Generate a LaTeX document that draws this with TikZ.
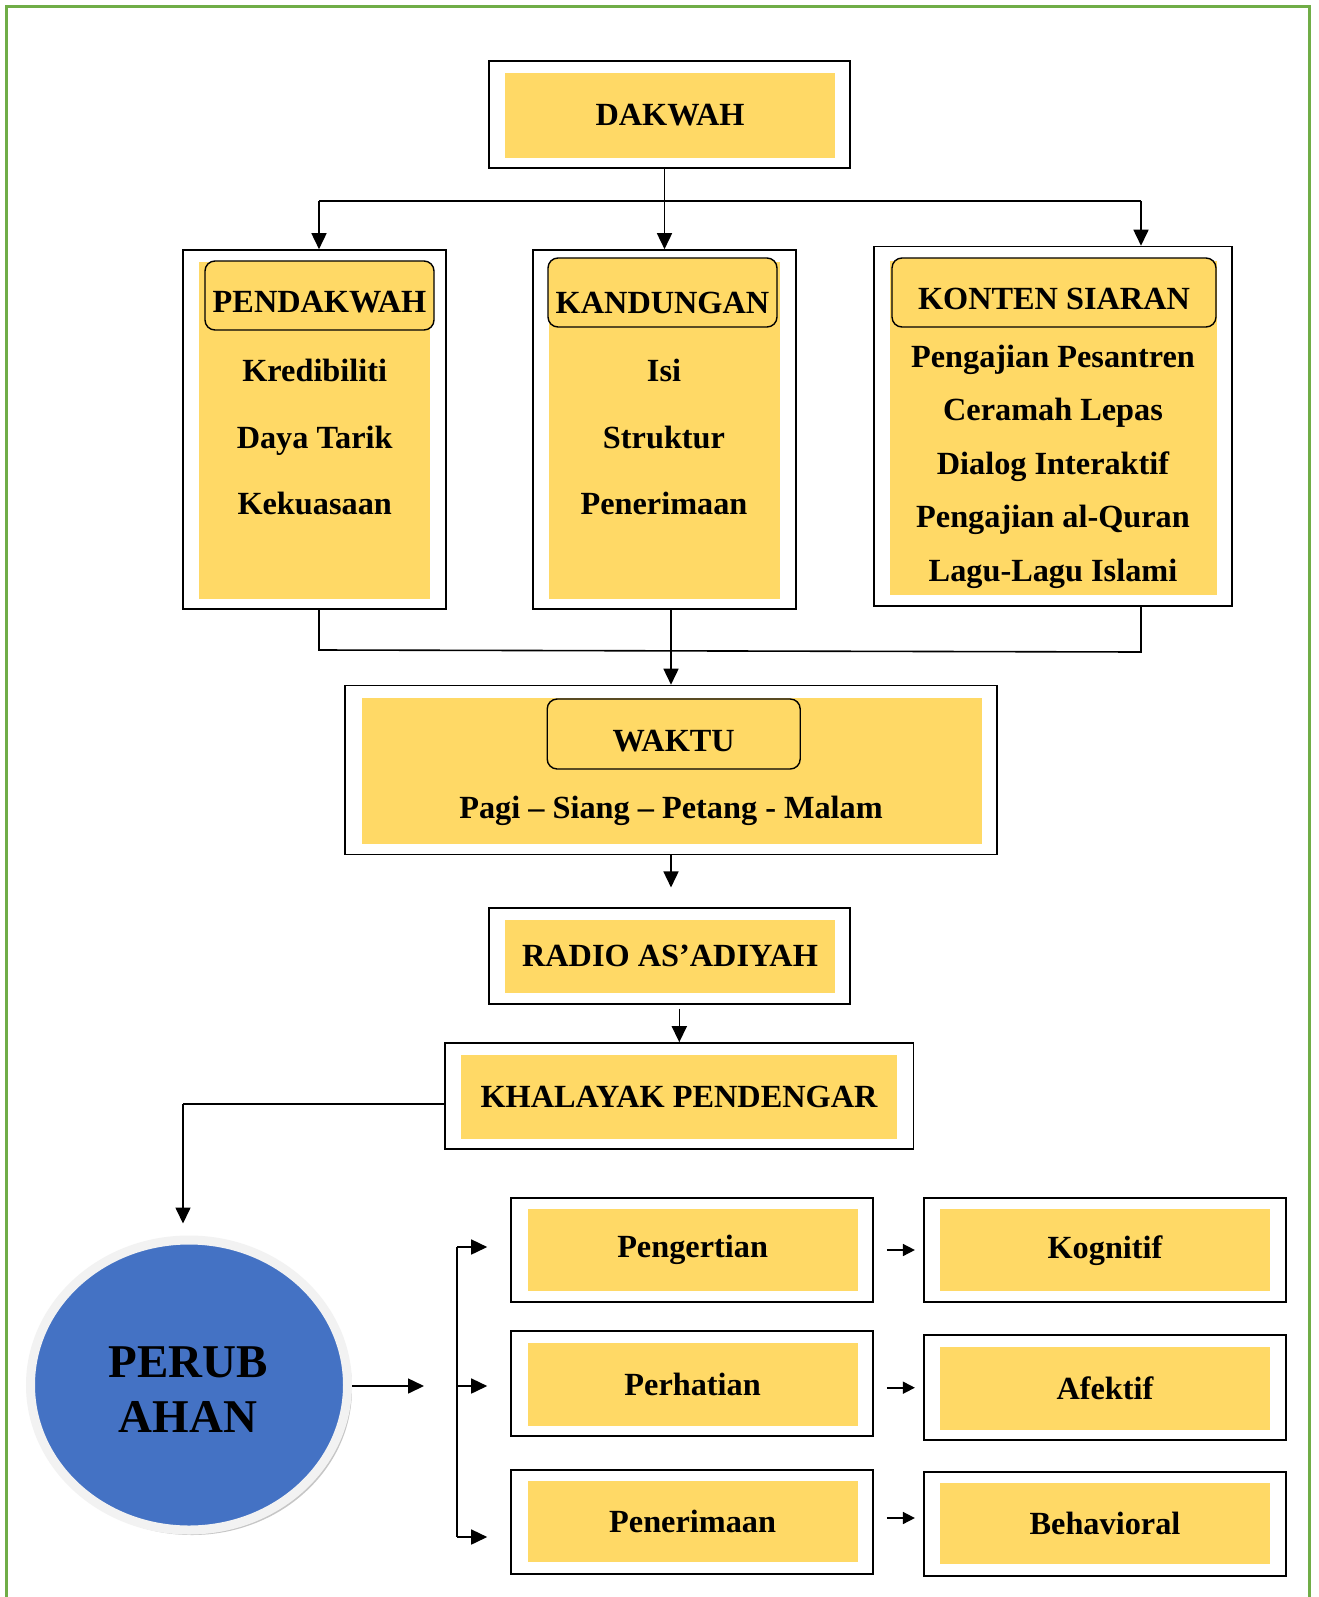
\documentclass[tikz,border=0pt]{standalone}
\usepackage{fontspec}
\setmainfont{Liberation Serif}
\usepackage{tikz}
\usetikzlibrary{shapes,arrows,arrows.meta,positioning,fit}

\definecolor{kuning}{HTML}{FFD966}
\definecolor{biru}{HTML}{4472C4}
\definecolor{hijau}{HTML}{70AD47}
\newcommand{\Huruf}{\fontsize{32.3}{38}\selectfont\bfseries}
\newcommand{\Besar}{\fontsize{47}{55}\selectfont\bfseries}

\begin{document}
\begin{tikzpicture}[x=1pt,y=-1pt]
				\tikzstyle{Frame}	= [draw, line width=1.6pt, fill=white, inner sep=0pt]
				\tikzstyle{Isi}		= [fill=kuning, inner sep=0pt, font=\Huruf]
				\tikzstyle{Judul}	= [draw, rounded corners=10pt, line width=1.4pt, fill=kuning, inner sep=0pt, font=\Huruf, text height=34pt, text depth=0pt]
				\tikzstyle{Teks}	= [inner sep=0pt, align=center]
				\tikzstyle{Garis}	= [line width=1.6pt]
				\tikzstyle{Hubung}	= [line width=1.6pt, -{Triangle[length=16pt,width=15pt]}]
				\tikzstyle{Kecil}	= [line width=1.6pt, -{Triangle[length=12pt,width=12pt]}]

				\useasboundingbox (0,0) rectangle (1318,1597);
				\fill [white] (0,0) rectangle (1318,1597);
				\draw [hijau, line width=3pt] (6,1600) -- (6,7) -- (1309,7) -- (1309,1600);

				% atas
				\node (dakwahF) at (669.5,114.5) [Frame, minimum width=361pt, minimum height=107pt] {};
				\node (dakwah) at (670,115.5) [Isi, minimum width=330pt, minimum height=85pt] {DAKWAH};

				% tiga kotak
				\node (pendF) at (314.5,429.5) [Frame, minimum width=263pt, minimum height=359pt] {};
				\node (pend) at (314.5,430.5) [Isi, minimum width=231pt, minimum height=337pt] {};
				\node (pendJ) at (319.5,295.5) [Judul, minimum width=229pt, minimum height=69pt] {PENDAKWAH};
				\node (pendIsi) at (314.7,437) [Teks, font=\fontsize{32.3}{66.5}\selectfont\bfseries] {Kredibiliti\\Daya Tarik\\Kekuasaan};

				\node (kandF) at (664.5,429.5) [Frame, minimum width=263pt, minimum height=359pt] {};
				\node (kand) at (664.5,430.5) [Isi, minimum width=231pt, minimum height=337pt] {};
				\node (kandJ) at (662.5,292.5) [Judul, minimum width=229pt, minimum height=69pt, text height=41pt] {KANDUNGAN};
				\node (kandIsi) at (664,437) [Teks, font=\fontsize{32.3}{66.5}\selectfont\bfseries] {Isi\\Struktur\\Penerimaan};

				\node (kontenF) at (1053,426.3) [Frame, minimum width=358pt, minimum height=359.5pt] {};
				\node (konten) at (1053.5,428) [Isi, minimum width=327pt, minimum height=334pt] {};
				\node (kontenJ) at (1054,292.5) [Judul, minimum width=324pt, minimum height=69pt] {KONTEN SIARAN};
				\node (kontenIsi) at (1053,466.5) [Teks, font=\fontsize{32.3}{53.5}\selectfont\bfseries] {Pengajian Pesantren\\Ceramah Lepas\\Dialog Interaktif\\Pengajian al-Quran\\Lagu-Lagu Islami};

				% waktu
				\node (waktuF) at (671,770) [Frame, minimum width=652pt, minimum height=169pt] {};
				\node (waktu) at (671.7,770.8) [Isi, minimum width=620pt, minimum height=146pt] {};
				\node (waktuJ) at (673.7,734) [Judul, minimum width=253pt, minimum height=70pt] {WAKTU};
				\node (waktuIsi) at (671,810.5) [Teks, font=\Huruf] {Pagi – Siang – Petang - Malam};

				\node (radioF) at (669.5,956) [Frame, minimum width=361pt, minimum height=95.5pt] {};
				\node (radio) at (670,956.4) [Isi, minimum width=330pt, minimum height=73pt] {RADIO AS’ADIYAH};

				\node (khalayakF) at (679.3,1096) [Frame, minimum width=468.6pt, minimum height=106pt] {};
				\node (khalayak) at (679,1097) [Isi, minimum width=436pt, minimum height=84pt] {KHALAYAK PENDENGAR};

				% perubahan
				\fill [gray!45] (192,1389) ellipse [x radius=160pt, y radius=146pt];
				\node (ubah) at (189,1385) [ellipse, fill=biru, draw=gray!10, line width=9pt, minimum width=317pt, minimum height=290pt, inner sep=0pt] {};
				\node (ubahTeks) at (188,1390) [Teks, font=\Besar] {PERUB\\AHAN};

				\node (pengF) at (692,1250) [Frame, minimum width=362pt, minimum height=104pt] {};
				\node (peng) at (692.6,1250.3) [Isi, minimum width=330pt, minimum height=82pt] {Pengertian};
				\node (perhF) at (692,1383.5) [Frame, minimum width=362pt, minimum height=105pt] {};
				\node (perh) at (692.6,1384.5) [Isi, minimum width=330pt, minimum height=83pt] {Perhatian};
				\node (terimaF) at (692,1522) [Frame, minimum width=362pt, minimum height=104pt] {};
				\node (terima) at (692.6,1521.5) [Isi, minimum width=330pt, minimum height=81pt] {Penerimaan};

				\node (kogF) at (1104.7,1250) [Frame, minimum width=362pt, minimum height=104pt] {};
				\node (kog) at (1105,1250.3) [Isi, minimum width=330pt, minimum height=82pt] {Kognitif};
				\node (afekF) at (1104.7,1387.7) [Frame, minimum width=362pt, minimum height=105pt] {};
				\node (afek) at (1105,1388) [Isi, minimum width=330pt, minimum height=83pt] {Afektif};
				\node (behavF) at (1104.7,1523.7) [Frame, minimum width=362pt, minimum height=104pt] {};
				\node (behav) at (1105,1523.5) [Isi, minimum width=330pt, minimum height=81pt] {Behavioral};

				\coordinate (atasKiri) at (319,201);
				\coordinate (atasKanan) at (1141,201);
				\coordinate (bawahKiri) at (319,650);
				\coordinate (bawahKanan) at (1141,652);
				\coordinate (turun) at (183,1104);
				\coordinate (cabang) at (457,1386);
				\coordinate (cabangAtas) at (457,1247);
				\coordinate (cabangBawah) at (457,1537);

				\draw [Hubung] (dakwahF.south -| kandF.north) to (kandF.north);
				\draw [Garis] (atasKiri) to (atasKanan);
				\draw [Hubung] (atasKiri) to (atasKiri |- pendF.north);
				\draw [Hubung] (atasKanan) to (atasKanan |- kontenF.north);
				\draw [Garis] (bawahKiri |- pendF.south) -- (bawahKiri) -- (bawahKanan) -- (bawahKanan |- kontenF.south);
				\draw [Hubung] (kandF.south -| waktuF.north) to (waktuF.north);
				\draw [Hubung] (waktuF.south) to (waktuF.south |- radioF.north) [shorten >=20pt];
				\draw [Hubung] (radioF.south -| khalayakF.north) to (khalayakF.north) [shorten <=4pt];
				\draw [Garis] (khalayakF.west |- turun) to (turun);
				\draw [Hubung] (turun) to (turun |- ubah.north) [shorten >=12pt];
				\draw [Hubung] (ubah.east |- cabang) to (cabang) [shorten >=33pt];
				\draw [Garis] (cabangAtas) to (cabangBawah);
				\draw [Hubung] (cabangAtas) to (cabangAtas -| pengF.west) [shorten >=23pt];
				\draw [Hubung] (cabang) to (cabang -| perhF.west) [shorten >=23pt];
				\draw [Hubung] (cabangBawah) to (cabangBawah -| terimaF.west) [shorten >=23pt];
				\draw [Kecil] (pengF.east) to (kogF.west) [shorten <=13pt, shorten >=8pt];
				\draw [Kecil] (perhF.east |- afekF.west) to (afekF.west) [shorten <=13pt, shorten >=8pt];
				\draw [Kecil] ([yshift=4pt]terimaF.east) to ([yshift=4pt]terimaF.east -| behavF.west) [shorten <=13pt, shorten >=8pt];
\end{tikzpicture}
\end{document}
